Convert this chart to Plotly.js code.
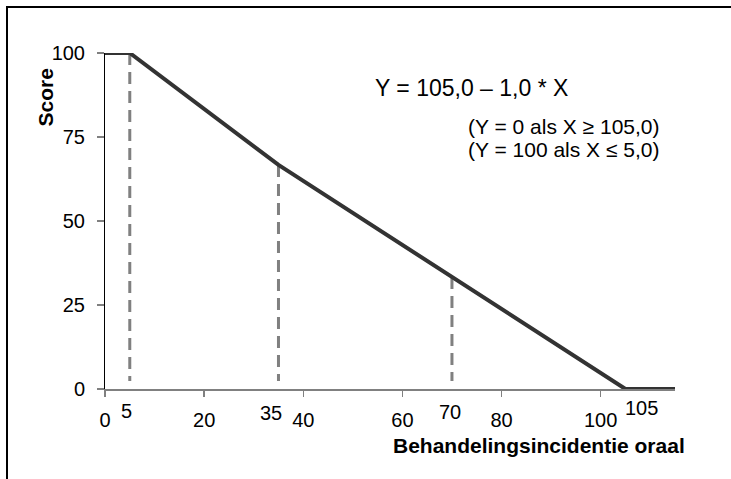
<!DOCTYPE html>
<html>
<head>
<meta charset="utf-8">
<script src="https://cdn.plot.ly/plotly-3.0.1.min.js"></script>
<style>
  html, body { margin: 0; padding: 0; background: #fff; }
  #wrap { position: relative; width: 731px; height: 479px; overflow: hidden; }
  #chart { position: absolute; left: 0; top: 0; width: 731px; height: 479px; }
  #frame { position: absolute; left: 6px; top: 6px; width: 740px; height: 500px;
           border-left: 2.5px solid #000; border-top: 2.5px solid #000; pointer-events: none; }
</style>
</head>
<body>
<div id="wrap">
  <div id="chart"></div>
  <div id="frame"></div>
</div>
<script>
// Data
const lineX = [0, 5, 35, 70, 105, 115];
const lineY = [100, 100, 66.7, 33.3, 0, 0];

const dashX = [5, 35, 70];
const dashTop = [100, 66.7, 33.3];
const dashBottom = 2.4;

const xTickVals = [0, 20, 40, 60, 80, 100];
const xTickText = ['0', '20', '40', '60', '80', '100'];
const yTickVals = [0, 25, 50, 75, 100];
const yTickText = ['0', '25', '50', '75', '100'];

const extraLabels = ['5', '35', '70', '105'];
const extraLabelX = [4.4, 33.4, 69.6, 108.3];
const extraLabelShift = [-22, -24, -23, -19];

const xTitle = 'Behandelingsincidentie oraal';
const yTitle = 'Score';
const equation = 'Y = 105,0 \u2013 1,0 * X';
const note1 = '(Y = 0 als X \u2265 105,0)';
const note2 = '(Y = 100 als X \u2264 5,0)';

const FONT = '"Liberation Sans", Arial, Helvetica, sans-serif';

const traces = [];
dashX.forEach((x, i) => {
  traces.push({
    x: [x, x], y: [dashTop[i], dashBottom],
    mode: 'lines', type: 'scatter', hoverinfo: 'skip', showlegend: false,
    line: { color: '#808080', width: 3, dash: '12px,7px' }
  });
});
traces.push({
  x: lineX, y: lineY, mode: 'lines', type: 'scatter', showlegend: false,
  line: { color: '#333333', width: 4 }
});

const annotations = [];
extraLabels.forEach((t, i) => {
  annotations.push({
    text: t, x: extraLabelX[i], xref: 'x', y: 0, yref: 'paper',
    xanchor: 'center', yanchor: 'middle', yshift: extraLabelShift[i],
    showarrow: false, font: { family: FONT, size: 20, color: '#000' }
  });
});
annotations.push({
  text: '<b>' + yTitle + '</b>', x: -0.105, xref: 'paper', y: 0.868, yref: 'paper',
  xanchor: 'center', yanchor: 'middle', textangle: -90, showarrow: false,
  font: { family: FONT, size: 21, color: '#000' }
});
annotations.push({
  text: '<b>' + xTitle + '</b>', x: 1.021, xref: 'paper', y: -0.1667, yref: 'paper',
  xanchor: 'right', yanchor: 'middle', showarrow: false,
  font: { family: FONT, size: 21, color: '#000' }
});
annotations.push({
  text: equation, x: 0.4696, xref: 'paper', y: 0.895, yref: 'paper',
  xanchor: 'left', yanchor: 'middle', showarrow: false,
  font: { family: FONT, size: 23, color: '#000' }
});
annotations.push({
  text: note1, x: 0.6333, xref: 'paper', y: 0.7807, yref: 'paper',
  xanchor: 'left', yanchor: 'middle', showarrow: false,
  font: { family: FONT, size: 21, color: '#000' }
});
annotations.push({
  text: note2, x: 0.6333, xref: 'paper', y: 0.7134, yref: 'paper',
  xanchor: 'left', yanchor: 'middle', showarrow: false,
  font: { family: FONT, size: 21, color: '#000' }
});

const layout = {
  width: 731, height: 479,
  margin: { l: 105, r: 56, t: 53, b: 90, pad: 0 },
  paper_bgcolor: '#fff', plot_bgcolor: '#fff',
  showlegend: false,
  font: { family: FONT, size: 20, color: '#000' },
  xaxis: {
    range: [0, 115], showgrid: false, zeroline: false,
    showline: true, linecolor: '#808080', linewidth: 2,
    ticks: 'outside', ticklen: 6, tickwidth: 1.5, tickcolor: '#808080',
    tickmode: 'array', tickvals: xTickVals, ticktext: xTickText,
    tickfont: { family: FONT, size: 20, color: '#000' },
    ticklabelstandoff: 6, layer: 'below traces', fixedrange: true
  },
  yaxis: {
    range: [0, 100], showgrid: false, zeroline: false,
    showline: true, linecolor: '#000', linewidth: 1,
    ticks: 'outside', ticklen: 7, tickwidth: 1.5, tickcolor: '#808080',
    tickmode: 'array', tickvals: yTickVals, ticktext: yTickText,
    tickfont: { family: FONT, size: 20, color: '#000' },
    ticklabelstandoff: 8, layer: 'below traces', fixedrange: true
  },
  annotations: annotations
};

Plotly.newPlot('chart', traces, layout, { displayModeBar: false, staticPlot: true });
</script>
</body>
</html>
